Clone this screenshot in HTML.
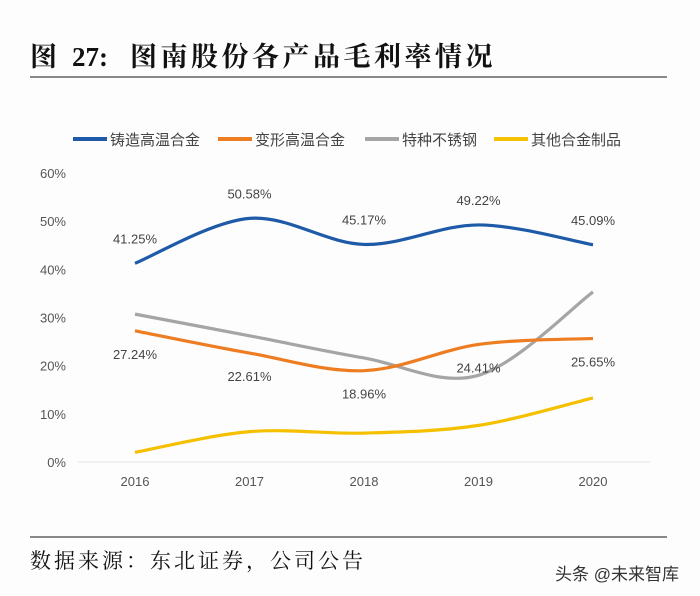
<!DOCTYPE html>
<html><head><meta charset="utf-8"><style>
body{margin:0;background:#fdfdfe;}
svg{display:block;font-family:"Liberation Sans","Noto Sans CJK SC",sans-serif;}
</style></head><body>
<svg id="c" width="700" height="596" xmlns="http://www.w3.org/2000/svg">
<g font-size="27" font-weight="bold" font-family="'Liberation Serif','Noto Serif CJK SC',serif" fill="#111">
<text x="30" y="66">图</text>
<text x="72" y="66">27:</text>
<text x="130" y="66" letter-spacing="3.5">图南股份各产品毛利率情况</text>
</g>
<line x1="30" y1="77" x2="667" y2="77" stroke="#444" stroke-width="1.2"/>
<g id="legend"></g>
<g id="axis"></g>
<g id="plot"></g>
<line x1="30" y1="537" x2="667" y2="537" stroke="#444" stroke-width="1.2"/>
<text x="30" y="568" font-size="21" letter-spacing="3" font-family="'Liberation Serif','Noto Serif CJK SC',serif" fill="#111">数据来源：东北证券，公司公告</text>
<text x="555" y="580" font-size="17" fill="#333">头条 @未来智库</text>
</svg>
<script>
const categories=["2016","2017","2018","2019","2020"];
const yTicks=[0,10,20,30,40,50,60];
const seriesNames=["铸造高温合金","变形高温合金","特种不锈钢","其他合金制品"];
const seriesColors=["#1f5aa8","#ee7d22","#a5a5a5","#f5c000"];
const castAlloy=[41.25,50.58,45.17,49.22,45.09];
const wroughtAlloy=[27.24,22.61,18.96,24.41,25.65];
const stainless=[30.7,26.2,21.6,18.0,35.3];
const otherAlloy=[2.0,6.3,6.0,7.6,13.3];
const allSeries=[castAlloy,wroughtAlloy,stainless,otherAlloy];
const labeled=[castAlloy,wroughtAlloy];
const NS="http://www.w3.org/2000/svg";
const x0=135,dx=114.5,yBase=462,yTop=173;
const xs=i=>x0+i*dx;
const ys=v=>yBase-(v/60)*(yBase-yTop);
function mk(t,a,p){const e=document.createElementNS(NS,t);for(const k in a)e.setAttribute(k,a[k]);p.appendChild(e);return e;}
const ax=document.getElementById('axis'),pl=document.getElementById('plot'),lg=document.getElementById('legend');
yTicks.forEach(v=>{const t=mk('text',{x:66,y:ys(v)+5,'font-size':13,fill:'#555','text-anchor':'end'},ax);t.textContent=v+'%';

});
mk('line',{x1:78,y1:yBase,x2:650,y2:yBase,stroke:'#e4e4e4'},ax);
categories.forEach((c,i)=>{const t=mk('text',{x:xs(i),y:486,'font-size':13,fill:'#555','text-anchor':'middle'},ax);t.textContent=c;

});
function path(d){const p=d.map((v,i)=>[xs(i),ys(v)]);let s=`M${p[0][0]},${p[0][1]}`;
for(let i=0;i<p.length-1;i++){const a=p[i-1]||p[i],b=p[i],c=p[i+1],e=p[i+2]||c;
s+=` C${b[0]+(c[0]-a[0])/6},${b[1]+(c[1]-a[1])/6} ${c[0]-(e[0]-b[0])/6},${c[1]-(e[1]-b[1])/6} ${c[0]},${c[1]}`;}return s;}
[3,2,1,0].forEach(k=>{const e=mk('path',{d:path(allSeries[k]),fill:'none',stroke:seriesColors[k],'stroke-width':3.2},pl);

});
labeled.forEach((d,k)=>d.forEach((v,i)=>{const t=mk('text',{x:xs(i),y:k==0?ys(v)-20:ys(v)+28,'font-size':13,fill:'#444','text-anchor':'middle'},pl);t.textContent=v.toFixed(2)+'%';

}));
const lx=[73,218,365,494];
seriesNames.forEach((n,k)=>{mk('line',{x1:lx[k],y1:139,x2:lx[k]+34,y2:139,stroke:seriesColors[k],'stroke-width':4},lg);
const t=mk('text',{x:lx[k]+37,y:145,'font-size':15,fill:'#444'},lg);t.textContent=n;

});
</script>
</body></html>
